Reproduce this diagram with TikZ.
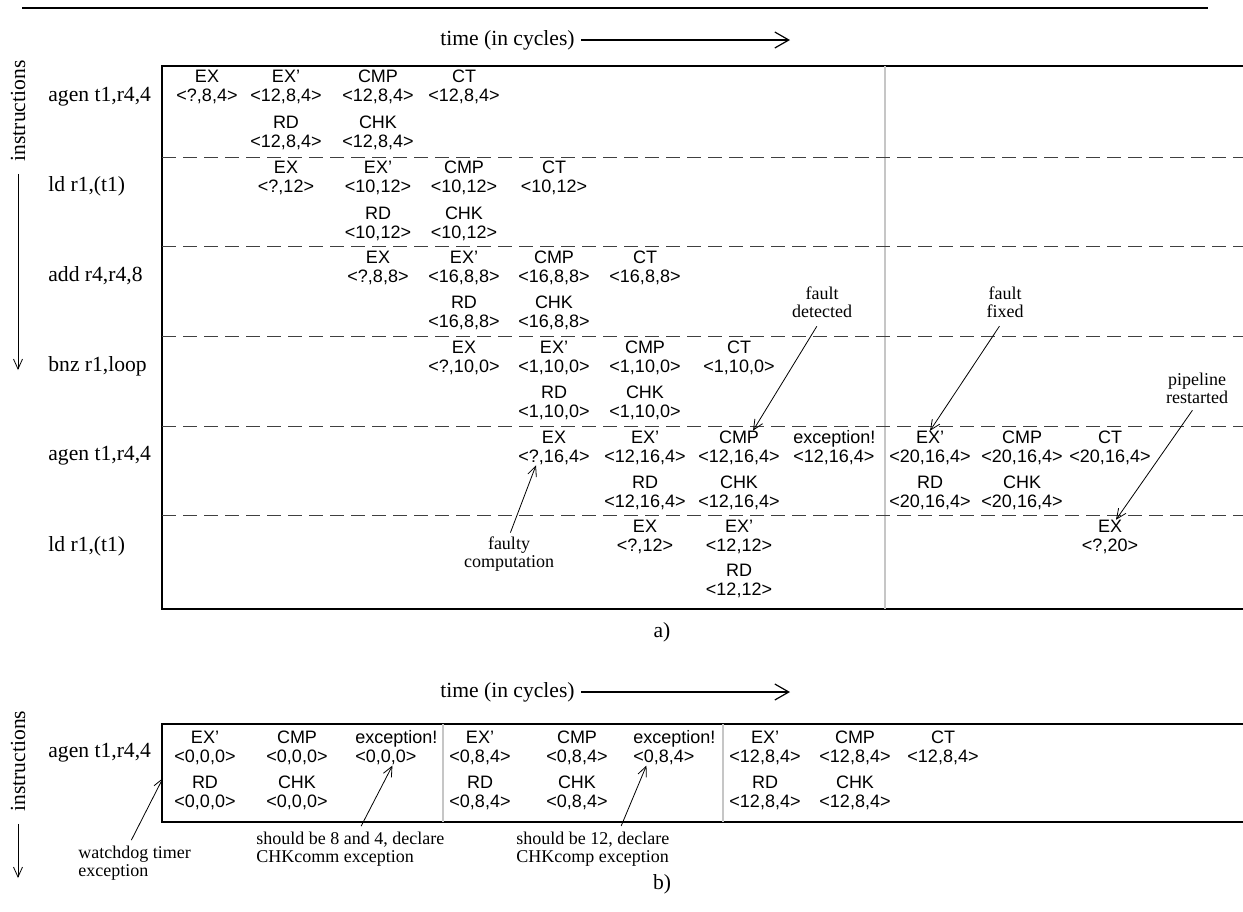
\documentclass[tikz,border=0pt]{standalone}
\usepackage{fontspec}
\setmainfont{Liberation Serif}
\newfontfamily\cellfont[Ligatures=TeX]{Liberation Sans}
\usetikzlibrary{arrows.meta}

\begin{document}
\begin{tikzpicture}[x=0.5pt,y=-0.5pt,
  cell/.style={font=\cellfont\fontsize{9}{9.5}\selectfont,align=center,inner sep=0pt},
  cellL/.style={cell,align=left},
  lbl/.style={font=\fontsize{10.8}{12}\selectfont,inner sep=0pt},
  note/.style={font=\fontsize{9}{9}\selectfont,align=center,inner sep=0pt},
  stagesep/.style={dash pattern=on 7pt off 3.5pt,gray!50!black,line width=0.5pt},
  pointer/.style={-{Straight Barb[length=5pt,width=4.5pt]},line width=0.4pt}
]
\useasboundingbox (0,0) rectangle (1243,911);

%TOP RULE
\draw[line width=1.2pt] (22,8) -- (1208,8);

%%%%%%%%%%%%%%%% a)
\node[lbl,anchor=east] (timea) at (575,40) {time (in cycles)};
\coordinate (timeaend) at (790,40);
\draw[-{Straight Barb[length=7pt,width=8pt]},line width=0.6pt] ([xshift=3pt]timea.east) -- (timeaend);

\node[lbl,rotate=90] (insa) at (18,111) {instructions};
\coordinate (insaend) at (18,370);
\draw[pointer] ([yshift=-6pt]insa.west) -- (insaend);

%box
\draw[line width=0.8pt] (1243,66) -- (162,66) -- (162,609) -- (1243,609);
\draw[gray!45,line width=0.6pt] (885,66) -- (885,609);
\foreach \y in {157,246,336,426,515}
  \draw[stagesep] (162,\y) -- (1243,\y);

%instructions
\node[lbl,anchor=west] (ia1) at (48,97) {agen t1,r4,4};
\node[lbl,anchor=west] (ia2) at (48,186) {ld r1,(t1)};
\node[lbl,anchor=west] (ia3) at (48,276) {add r4,r4,8};
\node[lbl,anchor=west] (ia4) at (48,366) {bnz r1,loop};
\node[lbl,anchor=west] (ia5) at (48,456) {agen t1,r4,4};
\node[lbl,anchor=west] (ia6) at (48,546) {ld r1,(t1)};

%stages
\foreach \n/\x/\y/\s/\v in {
  a1ex/207/87/EX/{<?,8,4>}, a1exp/286/87/EX'/{<12,8,4>},
  a1cmp/378/87/CMP/{<12,8,4>}, a1ct/464/87/CT/{<12,8,4>},
  a1rd/286/133/RD/{<12,8,4>}, a1chk/378/133/CHK/{<12,8,4>},
  a2ex/286/178/EX/{<?,12>}, a2exp/378/178/EX'/{<10,12>},
  a2cmp/464/178/CMP/{<10,12>}, a2ct/554/178/CT/{<10,12>},
  a2rd/378/224/RD/{<10,12>}, a2chk/464/224/CHK/{<10,12>},
  a3ex/378/268/EX/{<?,8,8>}, a3exp/464/268/EX'/{<16,8,8>},
  a3cmp/554/268/CMP/{<16,8,8>}, a3ct/645/268/CT/{<16,8,8>},
  a3rd/464/313/RD/{<16,8,8>}, a3chk/554/313/CHK/{<16,8,8>},
  a4ex/464/358/EX/{<?,10,0>}, a4exp/554/358/EX'/{<1,10,0>},
  a4cmp/645/358/CMP/{<1,10,0>}, a4ct/739/358/CT/{<1,10,0>},
  a4rd/554/403/RD/{<1,10,0>}, a4chk/645/403/CHK/{<1,10,0>},
  a5ex/554/448/EX/{<?,16,4>}, a5exp/645/448/EX'/{<12,16,4>},
  a5cmp/739/448/CMP/{<12,16,4>},
  a5rd/645/493/RD/{<12,16,4>}, a5chk/739/493/CHK/{<12,16,4>},
  a5exq/930/448/EX'/{<20,16,4>}, a5cmq/1022/448/CMP/{<20,16,4>},
  a5ctq/1110/448/CT/{<20,16,4>},
  a5rdq/930/493/RD/{<20,16,4>}, a5chq/1022/493/CHK/{<20,16,4>},
  a6ex/645/537/EX/{<?,12>}, a6exp/739/537/EX'/{<12,12>},
  a6rd/739/581/RD/{<12,12>}, a6exq/1110/537/EX/{<?,20>}}
  \node[cell] (\n) at (\x,\y) {\s\\\v};
\node[cellL,anchor=west] (a5exc) at (793,448) {exception!\\<12,16,4>};

%notes
\node[note] (fdet) at (822,302) {fault\\detected};
\node[note] (ffix) at (1005,302) {fault\\fixed};
\node[note] (prst) at (1197,388) {pipeline\\restarted};
\node[note] (fcmp) at (509,554) {faulty\\computation};
\draw[pointer,shorten <=5pt] (fdet.south) -- ([xshift=7pt]a5cmp.north);
\draw[pointer,shorten <=5pt] (ffix.south) -- (a5exq.north);
\draw[pointer,shorten <=4pt] (prst.south) -- ([xshift=3pt]a6exq.north);
\draw[pointer,shorten <=2pt] (fcmp.north) -- ([xshift=-9pt]a5ex.south);

\node[lbl] (capa) at (662,632) {a)};

%%%%%%%%%%%%%%%% b)
\node[lbl,anchor=east] (timeb) at (575,692) {time (in cycles)};
\coordinate (timebend) at (790,692);
\draw[-{Straight Barb[length=7pt,width=8pt]},line width=0.6pt] ([xshift=3pt]timeb.east) -- (timebend);

\node[lbl,rotate=90] (insb) at (18,761) {instructions};
\coordinate (insbend) at (18,878);
\draw[pointer] ([yshift=-6pt]insb.west) -- (insbend);

\draw[line width=0.8pt] (1243,724) -- (162,724) -- (162,822) -- (1243,822);
\draw[gray!45,line width=0.6pt] (443,724) -- (443,822);
\draw[gray!45,line width=0.6pt] (723,724) -- (723,822);

\node[lbl,anchor=west] (ib1) at (48,753) {agen t1,r4,4};

\foreach \n/\x/\y/\s/\v in {
  b1exp/205/748/EX'/{<0,0,0>}, b1cmp/297/748/CMP/{<0,0,0>},
  b1rd/205/793/RD/{<0,0,0>}, b1chk/297/793/CHK/{<0,0,0>},
  b2exp/480/748/EX'/{<0,8,4>}, b2cmp/577/748/CMP/{<0,8,4>},
  b2rd/480/793/RD/{<0,8,4>}, b2chk/577/793/CHK/{<0,8,4>},
  b3exp/765/748/EX'/{<12,8,4>}, b3cmp/855/748/CMP/{<12,8,4>},
  b3ct/943/748/CT/{<12,8,4>},
  b3rd/765/793/RD/{<12,8,4>}, b3chk/855/793/CHK/{<12,8,4>}}
  \node[cell] (\n) at (\x,\y) {\s\\\v};
\node[cellL,anchor=west] (b1exc) at (355,748) {exception!\\<0,0,0>};
\node[cellL,anchor=west] (b2exc) at (633,748) {exception!\\<0,8,4>};

\node[note,align=left,anchor=west] (wdog) at (78,863) {watchdog timer\\exception};
\node[note,align=left,anchor=west] (sh8) at (256,849) {should be 8 and 4, declare\\CHKcomm exception};
\node[note,align=left,anchor=west] (sh12) at (516,849) {should be 12, declare\\CHKcomp exception};
\coordinate (wdtip) at (163,778);
\draw[pointer,shorten <=3pt] ([xshift=-3pt]wdog.north) -- (wdtip);
\draw[pointer,shorten <=3pt] ([xshift=4pt]sh8.north) -- ([xshift=-2pt]b1exc.south);
\draw[pointer,shorten <=3pt] ([xshift=13pt]sh12.north) -- ([xshift=-14pt]b2exc.south);

\node[lbl] (capb) at (662,884) {b)};
\end{tikzpicture}
\end{document}
